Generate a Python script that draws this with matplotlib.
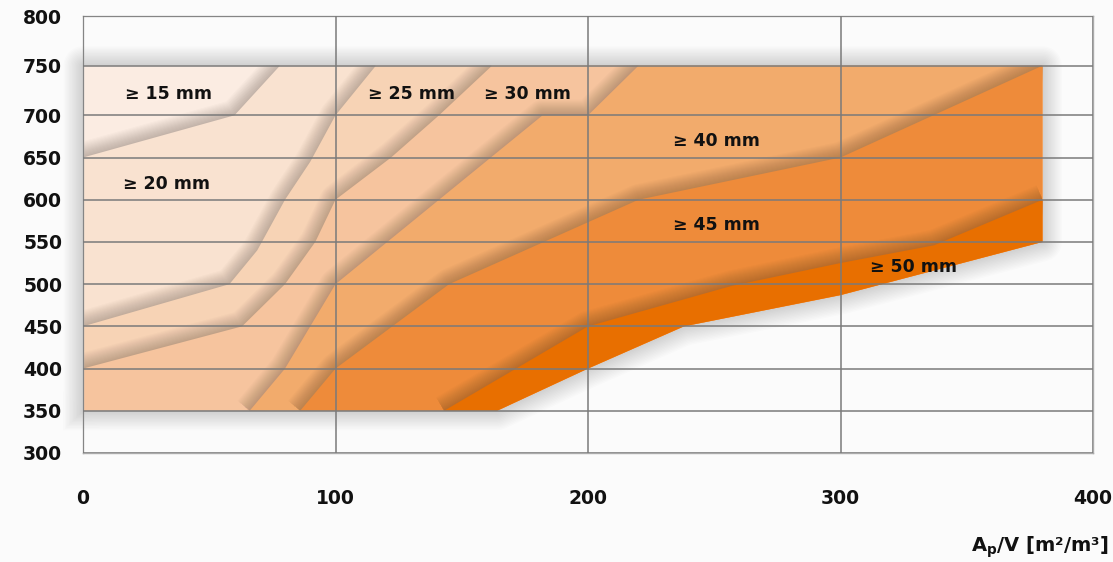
import numpy as np
import matplotlib.pyplot as plt
from matplotlib.patches import Polygon

# chart domain
x_left, x_right = 0, 380
y_bottom, y_top = 350, 750

# class boundaries, listed from the left/bottom end to the top/right end
b20_x = [0, 60, 78]
b20_y = [650, 700, 750]
b25_x = [0, 58, 69, 80, 90, 100, 116]
b25_y = [450, 500, 540, 600, 645, 700, 750]
b30_x = [0, 63, 80, 92, 100, 122, 141, 162]
b30_y = [400, 450, 500, 550, 600, 650, 700, 750]
b40_x = [66, 80, 100, 182, 200, 220]
b40_y = [350, 400, 500, 700, 700, 750]
b45_x = [86, 100, 145, 220, 300, 380]
b45_y = [350, 400, 500, 600, 650, 750]
b50_x = [143, 200, 257, 300, 337, 380]
b50_y = [350, 450, 498, 525, 546, 600]
# lower edge of the whole area
low_x = [164, 200, 238, 300, 380]
low_y = [350, 400, 450, 487, 550]

labels = ['≥ 15 mm', '≥ 20 mm', '≥ 25 mm', '≥ 30 mm', '≥ 40 mm', '≥ 45 mm', '≥ 50 mm']
label_x = [34, 33, 130, 176, 251, 251, 329]
label_y = [721, 619, 721, 721, 670, 570, 520]
colors = ['#fbece2', '#f9e2d0', '#f7d3b5', '#f6c49e', '#f2ab6c', '#ee8b3a', '#e86f00']

x_ticks = [0, 100, 200, 300, 400]
y_ticks = [300, 350, 400, 450, 500, 550, 600, 650, 700, 750, 800]


# the reference stretches the band above 700 a bit
def fwd(y):
    y = np.asarray(y, dtype=float)
    return np.where(y <= 700, y, 700 + (y - 700) * 50 / 42.5)


def inv(u):
    u = np.asarray(u, dtype=float)
    return np.where(u <= 700, u, 700 + (u - 700) * 42.5 / 50)


def region(bx, by):
    pts = list(zip(bx, by))
    if by[-1] == y_top:
        pts.append((x_right, y_top))
    pts += list(zip(low_x, low_y))[::-1]
    if bx[0] == x_left:
        pts.append((x_left, y_bottom))
    return pts


fig = plt.figure(figsize=(11.13, 5.62), dpi=100, facecolor='#fbfbfb')
ax = fig.add_axes([83 / 1113, 1 - 453 / 562, 1010 / 1113, 437 / 562])
ax.set_facecolor('#fbfbfb')
ax.set_yscale('function', functions=(fwd, inv))
ax.set_xlim(0, 400)
ax.set_ylim(300, 800)

outer = [(x_left, y_bottom), (x_left, y_top), (x_right, y_top)] + list(zip(low_x, low_y))[::-1]
ox, oy = zip(*(outer + [outer[0]]))
# soft drop shadow round the whole area
for lw in np.arange(2, 30, 2):
    ax.plot(ox, oy, color='#202020', lw=lw, alpha=0.011, zorder=0.5, clip_on=False,
            solid_joinstyle='round')

clip = Polygon(outer, closed=True, transform=ax.transData, fill=False, lw=0)
ax.add_patch(clip)

ax.add_patch(Polygon(outer, closed=True, fc=colors[0], ec='none', zorder=1.0))

bounds = [(b20_x, b20_y), (b25_x, b25_y), (b30_x, b30_y), (b40_x, b40_y),
          (b45_x, b45_y), (b50_x, b50_y)]
for i, (bx, by) in enumerate(bounds):
    z = 1.0 + 0.1 * (i + 1)
    for lw in np.arange(1.5, 24, 1.5):
        ln, = ax.plot(bx, by, color='#3a2a20', lw=lw, alpha=0.02, zorder=z - 0.05,
                      solid_joinstyle='round', solid_capstyle='butt')
        ln.set_clip_path(clip)
    ax.add_patch(Polygon(region(bx, by), closed=True, fc=colors[i + 1], ec='none', zorder=z))

for txt, lx, ly in zip(labels, label_x, label_y):
    ax.text(lx, ly, txt, ha='center', va='center', fontsize=12.5, fontweight='bold',
            color='#111111', zorder=4)

ax.set_axisbelow(False)
ax.grid(True, color='#7a7a7a', lw=1.1)
ax.set_xticks(x_ticks)
ax.set_yticks(y_ticks)
ax.tick_params(length=0, labelsize=13.5)
ax.tick_params(axis='x', pad=26)
ax.tick_params(axis='y', pad=15)
for lab in ax.get_xticklabels() + ax.get_yticklabels():
    lab.set_fontweight('bold')
    lab.set_color('#111111')
for sp in ax.spines.values():
    sp.set_color('#aaaaaa')
    sp.set_linewidth(1.0)

fig.text(1109 / 1113, 1 - 547 / 562, r'$\mathbf{A_p}$/V [m²/m³]', ha='right', va='center',
         fontsize=14, fontweight='bold', color='#111111')

fig.savefig('out.png', dpi=100, facecolor=fig.get_facecolor())
